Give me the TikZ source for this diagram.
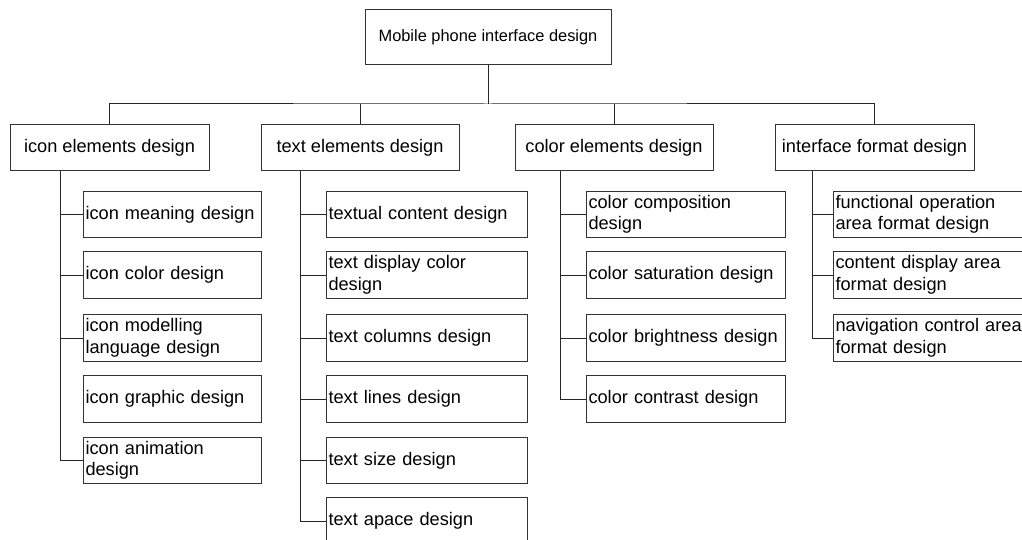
\documentclass[tikz,border=0pt]{standalone}
\usepackage{fontspec}
\setmainfont{Liberation Sans}
\begin{document}
\begin{tikzpicture}[x=1pt, y=-1pt,
  box/.style={draw=black!80, line width=1pt, fill=white, inner sep=0pt},
  rootbox/.style={box, minimum width=246pt, minimum height=55pt,
    font=\fontsize{16.4}{20}\selectfont},
  headbox/.style={box, minimum width=#1, minimum height=46pt,
    font=\fontsize{18.2}{22}\selectfont},
  leaf/.style={box, inner xsep=2.5pt, minimum height=46.5pt, align=left,
    font=\fontsize{18.2}{21.5}\selectfont},
  leafA/.style={leaf, text width=173pt},
  leafB/.style={leaf, text width=196pt},
  leafC/.style={leaf, text width=194pt},
  leafD/.style={leaf, text width=194pt},
  link/.style={draw=black!85, line width=1pt}
]
\useasboundingbox (0,0) rectangle (1022,540);

% root and first level
\node[rootbox] (root) at (488,37.5) {Mobile phone interface design};
\node[headbox=199pt] (icon)   at (109.5,148) {icon elements design};
\node[headbox=198pt] (text)   at (360,148)   {text elements design};
\node[headbox=198pt] (color)  at (614,148)   {color elements design};
\node[headbox=199pt] (format) at (874.5,148) {interface format design};

\coordinate (bus) at (488,104);
\draw[link] (root.south) -- (bus);
\draw[link] (icon.north) |- (bus) -| (format.north);
\draw[link] (text.north) -- (text.north |- bus);
\draw[link] (color.north) -- (color.north |- bus);

% icon elements
\node[leafA] (i1) at (172,214.5) {icon meaning design};
\node[leafA] (i2) at (172,275)   {icon color design};
\node[leafA] (i3) at (172,338)   {icon modelling\\language design};
\node[leafA] (i4) at (172,399)   {icon graphic design};
\node[leafA] (i5) at (172,460.5) {icon animation\\design};

% text elements
\node[leafB] (t1) at (426.5,214.5) {textual content design};
\node[leafB] (t2) at (426.5,275)   {text display color\\design};
\node[leafB] (t3) at (426.5,338)   {text columns design};
\node[leafB] (t4) at (426.5,399)   {text lines design};
\node[leafB] (t5) at (426.5,460.5) {text size design};
\node[leafB] (t6) at (426.5,521)   {text apace design};

% color elements
\node[leafC] (c1) at (685.5,214.5) {color composition\\design};
\node[leafC] (c2) at (685.5,275)   {color saturation design};
\node[leafC] (c3) at (685.5,338)   {color brightness design};
\node[leafC] (c4) at (685.5,399)   {color contrast design};

% interface format
\node[leafD] (f1) at (932.5,214.5) {functional operation\\area format design};
\node[leafD] (f2) at (932.5,275)   {content display area\\format design};
\node[leafD] (f3) at (932.5,338)   {navigation control area\\format design};

% trunks from each heading down to its items
\coordinate (ti) at (60,171);
\coordinate (tt) at (300,171);
\coordinate (tc) at (560,171);
\coordinate (tf) at (812,171);

\draw[link] (ti) |- (i5.west);
\foreach \n in {i1,i2,i3} \draw[link] (\n.west) -- (\n.west -| ti);

\draw[link] (tt) |- (t6.west);
\foreach \n in {t1,t2,t3,t4,t5} \draw[link] (\n.west) -- (\n.west -| tt);

\draw[link] (tc) |- (c4.west);
\foreach \n in {c1,c2,c3} \draw[link] (\n.west) -- (\n.west -| tc);

\draw[link] (tf) |- (f3.west);
\foreach \n in {f1,f2} \draw[link] (\n.west) -- (\n.west -| tf);
\end{tikzpicture}
\end{document}
